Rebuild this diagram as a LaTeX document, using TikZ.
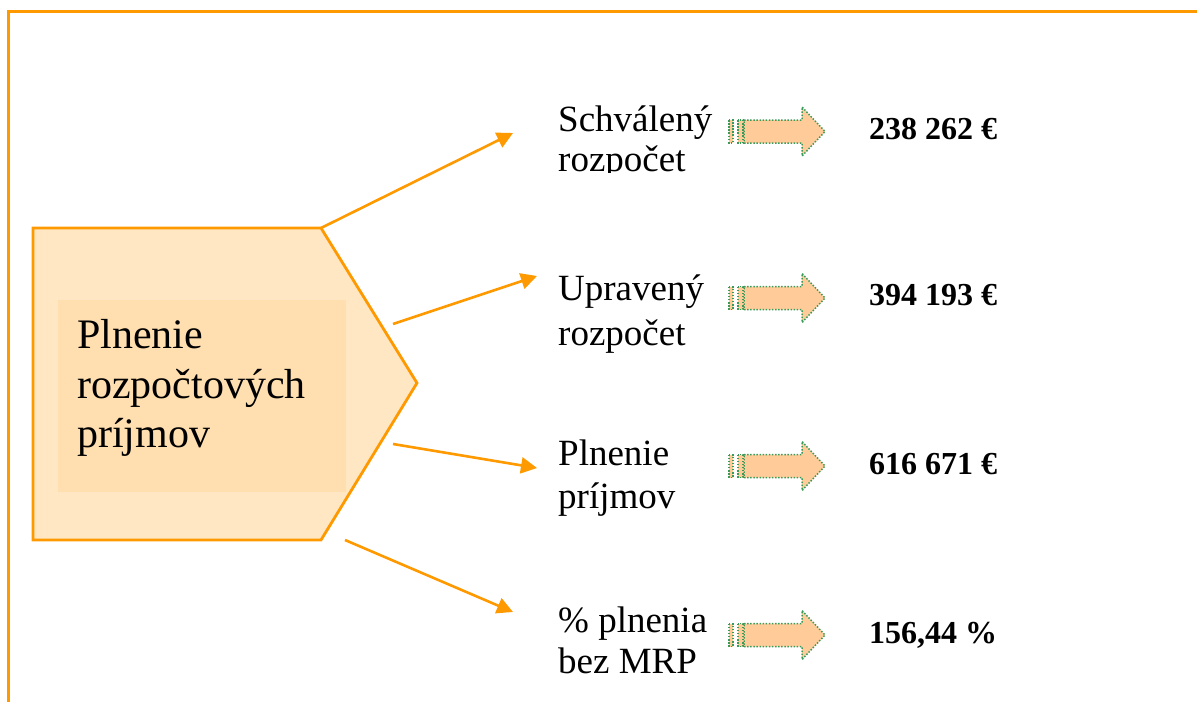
\documentclass[tikz,border=0pt]{standalone}
\usepackage{fontspec}
\setmainfont{Liberation Serif}
\usetikzlibrary{arrows.meta}
\definecolor{orangeline}{HTML}{FF9900}
\definecolor{pentfill}{HTML}{FFE7C4}
\definecolor{innerfill}{HTML}{FFDFB0}
\definecolor{arrowfill}{HTML}{FFCC99}
\definecolor{dotgreen}{HTML}{3A9A5A}
\tikzset{
  stripedarrow/.pic={
    \path[blk] (0,-11.5) rectangle (4,11.5);
    \path[blk] (9,-11.5) rectangle (14,11.5);
    \path[blk] (15,-11.5) -- (73,-11.5) -- (73,-24.5) -- (96,0) -- (73,24.5) -- (73,11.5) -- (15,11.5) -- cycle;
  }
}
\begin{document}
\begin{tikzpicture}[x=1pt,y=-1pt,
  conn/.style={draw=orangeline,line width=2.6pt,-{Triangle[length=16pt,width=16pt]}},
  lbl/.style={anchor=base west,inner sep=0pt,font=\fontsize{37}{44}\selectfont},
  val/.style={anchor=base west,inner sep=0pt,font=\fontsize{32}{38}\selectfont\bfseries},
  mainlbl/.style={anchor=base west,inner sep=0pt,font=\fontsize{42}{50}\selectfont},
  blk/.style={fill=arrowfill,draw=dotgreen,line width=1.5pt,dash pattern=on 1.5pt off 1.6pt}]
\useasboundingbox (0,0) rectangle (1197,702);
% frame
\draw[orangeline,line width=3pt] (8,702) -- (8,11) -- (1197,11);
% pentagon
\coordinate (pA) at (33,228);
\coordinate (pB) at (321,228);
\coordinate (pC) at (417,383);
\coordinate (pD) at (321,540);
\coordinate (pE) at (33,540);
\draw[orangeline,fill=pentfill,line width=2.8pt,line join=miter] (pA) -- (pB) -- (pC) -- (pD) -- (pE) -- cycle;
\fill[innerfill] (58,300) rectangle (346,492);
\node[mainlbl] (m1) at (77,348) {Plnenie};
\node[mainlbl] (m2) at (77,398) {rozpočtových};
\node[mainlbl] (m3) at (77,447) {príjmov};
% connector ends
\coordinate (s1) at (321,228);
\coordinate (s2) at (393,324);
\coordinate (s3) at (393,444);
\coordinate (s4) at (345,540);
\coordinate (t1) at (513,133);
\coordinate (t2) at (537,276);
\coordinate (t3) at (537,468);
\coordinate (t4) at (513,612);
\draw[conn] (s1) -- (t1);
\draw[conn] (s2) -- (t2);
\draw[conn] (s3) -- (t3);
\draw[conn] (s4) -- (t4);
% labels
\node[lbl] (a1) at (558,131) {Schválený};
\begin{scope}
  \clip (540,0) rectangle (720,172);
  \node[lbl] (a2) at (558,171) {rozpočet};
\end{scope}
\node[lbl] (b1) at (558,300) {Upravený};
\node[lbl] (b2) at (558,345) {rozpočet};
\node[lbl] (c1) at (558,465) {Plnenie};
\node[lbl] (c2) at (558,508) {príjmov};
\node[lbl] (d1) at (558,632) {\% plnenia};
\node[lbl] (d2) at (558,673) {bez MRP};
% block arrows
\pic at (729,131.5) {stripedarrow};
\pic at (729,298) {stripedarrow};
\pic at (729,466) {stripedarrow};
\pic at (729,635) {stripedarrow};
% values
\node[val] (v1) at (869,139) {238 262 €};
\node[val] (v2) at (869,305) {394 193 €};
\node[val] (v3) at (869,474) {616 671 €};
\node[val] (v4) at (869,643) {156,44 \%};
\end{tikzpicture}
\end{document}
